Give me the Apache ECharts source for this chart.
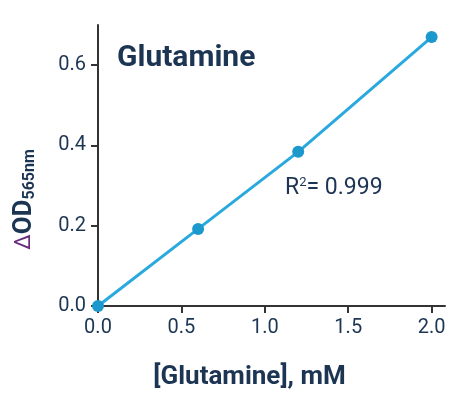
<!DOCTYPE html>
<html>
<head>
<meta charset="utf-8" />
<style>
  html, body { margin: 0; padding: 0; background: #fff; }
  #chart { width: 465px; height: 399px; }
</style>
<script src="https://cdn.jsdelivr.net/npm/echarts@6/dist/echarts.min.js"></script>
</head>
<body>
<div id="chart"></div>
<script type="text/javascript">
  // standard curve readings
  var concentration = [0, 0.6, 1.2, 2.0];
  var deltaOD = [0, 0.192, 0.384, 0.67];
  var xTicks = [0, 0.5, 1.0, 1.5, 2.0];
  var yTicks = [0, 0.2, 0.4, 0.6];

  var navy = '#1c3553';
  var chart = echarts.init(document.getElementById('chart'));

  var points = concentration.map(function (c, i) { return [c, deltaOD[i]]; });

  chart.setOption({
    animation: false,
    grid: { left: 98, right: 20, top: 25, bottom: 93 },
    xAxis: {
      type: 'value',
      min: 0,
      max: 2.08,
      splitLine: { show: false },
      axisLine: { onZero: false, lineStyle: { color: '#333', width: 2 } },
      axisTick: { length: 7, lineStyle: { color: '#333', width: 2 }, customValues: xTicks },
      axisLabel: {
        customValues: xTicks,
        margin: 12,
        color: navy,
        fontSize: 20,
        fontFamily: 'Roboto',
        formatter: function (v) { return v.toFixed(1); }
      },
      name: '[Glutamine], mM',
      nameLocation: 'middle',
      nameGap: 58,
      nameTextStyle: { color: navy, fontSize: 26, fontWeight: 'bold', fontFamily: 'Roboto', padding: [0, 44, 0, 0] }
    },
    yAxis: {
      type: 'value',
      min: 0,
      max: 0.7,
      splitLine: { show: false },
      axisLine: { show: true, onZero: false, lineStyle: { color: '#333', width: 2 } },
      axisTick: { show: true, length: 7, lineStyle: { color: '#333', width: 2 }, customValues: yTicks },
      axisLabel: {
        customValues: yTicks,
        margin: 12,
        color: navy,
        fontSize: 20,
        fontFamily: 'Roboto',
        formatter: function (v) { return v.toFixed(1); }
      },
      name: '{d|Δ}{od|OD}{sub|565nm}',
      nameLocation: 'middle',
      nameGap: 60,
      nameTextStyle: {
        fontFamily: 'Roboto',
        padding: [0, 68, 0, 0],
        rich: {
          d: { color: '#6a2c7e', fontSize: 22, fontFamily: 'Roboto' },
          od: { color: navy, fontSize: 26, fontWeight: 'bold', fontFamily: 'Roboto' },
          sub: { color: navy, fontSize: 16, fontWeight: 'bold', fontFamily: 'Roboto', verticalAlign: 'bottom', padding: [12, 0, 0, 0] }
        }
      }
    },
    series: [{
      type: 'line',
      data: points,
      symbol: 'circle',
      symbolSize: 12,
      itemStyle: { color: '#1b98cc' },
      lineStyle: { color: '#2aa9de', width: 3 },
      z: 3
    }],
    graphic: [
      {
        type: 'text',
        left: 117,
        top: 43,
        style: { text: 'Glutamine', fill: navy, font: 'bold 30px Roboto' }
      },
      {
        type: 'text',
        left: 285,
        top: 176,
        style: {
          text: '{r|R}{s|2}{r|= 0.999}',
          rich: {
            r: { fill: navy, fontSize: 23, fontFamily: 'Roboto' },
            s: { fill: navy, fontSize: 13, fontFamily: 'Roboto', verticalAlign: 'top', padding: [0, 0, 12, 0] }
          }
        }
      }
    ]
  });
</script>
</body>
</html>
